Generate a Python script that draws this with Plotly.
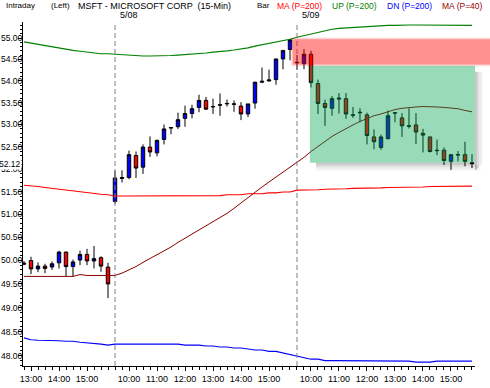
import math
import plotly.graph_objects as go

# ---------------- data ----------------
bar_index = list(range(65))

opens = [49.92, 50.00, 49.82, 49.88, 49.86, 49.95, 50.18, 49.87, 50.01, 50.13, 49.99, 50.06, 49.86,
         51.28, 51.79, 51.81, 52.30, 52.04, 52.49, 52.36, 52.66, 52.92, 52.95, 53.14, 53.25, 53.39,
         53.55, 53.40, 53.44, 53.47, 53.46, 53.42, 53.24, 53.49, 53.97, 54.00, 54.03, 54.51, 54.73,
         54.42, 54.40, 54.62, 53.94, 53.48, 53.37, 53.58, 53.59, 53.22, 53.28, 53.22, 52.72, 52.48,
         52.68, 53.27, 53.15, 52.96, 52.99, 52.80, 52.72, 52.42, 52.42, 52.17, 52.31, 52.32, 52.14]
highs = [49.99, 50.08, 49.96, 49.93, 49.98, 50.21, 50.19, 50.02, 50.21, 50.25, 50.31, 50.09, 49.95,
         51.96, 51.97, 52.41, 52.39, 52.55, 52.73, 52.66, 53.00, 52.94, 53.27, 53.43, 53.45, 53.68,
         53.63, 53.59, 53.71, 53.57, 53.55, 53.51, 53.47, 53.98, 54.31, 54.26, 54.51, 54.71, 54.98,
         54.60, 54.74, 54.70, 54.03, 53.57, 53.65, 53.72, 53.72, 53.40, 53.37, 53.27, 52.89, 52.77,
         53.32, 53.28, 53.26, 53.37, 53.26, 52.90, 52.72, 52.66, 52.48, 52.32, 52.40, 52.61, 52.33]
lows = [49.90, 49.71, 49.75, 49.73, 49.80, 49.83, 49.66, 49.66, 49.90, 49.90, 49.83, 49.76, 49.20,
        51.23, 51.70, 51.77, 51.80, 51.89, 52.27, 52.28, 52.55, 52.78, 52.90, 52.95, 53.14, 53.28,
        53.33, 53.24, 53.20, 53.41, 53.29, 53.10, 53.17, 53.36, 53.95, 53.98, 53.91, 54.27, 54.48,
        54.26, 54.27, 53.85, 53.24, 52.97, 53.20, 53.25, 53.13, 53.15, 53.05, 52.55, 52.44, 52.43,
        52.66, 53.05, 52.72, 52.91, 52.56, 52.37, 52.37, 52.31, 52.09, 51.98, 52.17, 52.06, 52.02]
closes = [49.94, 49.82, 49.88, 49.83, 49.93, 50.18, 49.87, 49.97, 50.13, 49.99, 50.04, 49.88, 49.50,
          51.80, 51.81, 52.32, 52.02, 52.49, 52.38, 52.64, 52.90, 52.93, 53.11, 53.25, 53.36, 53.55,
          53.35, 53.41, 53.45, 53.48, 53.47, 53.24, 53.47, 53.97, 53.99, 54.02, 54.51, 54.71, 54.96,
          54.43, 54.62, 53.96, 53.48, 53.39, 53.59, 53.60, 53.24, 53.21, 53.27, 52.75, 52.61, 52.72,
          53.20, 53.26, 52.97, 52.97, 52.83, 52.76, 52.39, 52.41, 52.19, 52.32, 52.32, 52.17, 52.12]

up_200 = [54.91, 54.88, 54.86, 54.82, 54.79, 54.76, 54.73, 54.71, 54.69, 54.67, 54.64, 54.63, 54.63,
          54.62, 54.61, 54.59, 54.59, 54.58, 54.58, 54.58, 54.59, 54.59, 54.60, 54.61, 54.62, 54.64,
          54.65, 54.67, 54.68, 54.70, 54.72, 54.74, 54.77, 54.81, 54.84, 54.87, 54.90, 54.94, 54.97,
          55.02, 55.06, 55.10, 55.14, 55.18, 55.21, 55.23, 55.24, 55.26, 55.27, 55.27, 55.28, 55.29,
          55.30, 55.30, 55.31, 55.31, 55.31, 55.31, 55.31, 55.31, 55.30, 55.30, 55.30, 55.30, 55.30]
ma_200 = [51.64, 51.63, 51.61, 51.59, 51.57, 51.55, 51.53, 51.51, 51.49, 51.47, 51.45, 51.44, 51.43,
          51.40, 51.40, 51.40, 51.40, 51.40, 51.40, 51.40, 51.40, 51.40, 51.40, 51.40, 51.40, 51.40,
          51.41, 51.41, 51.41, 51.43, 51.43, 51.43, 51.45, 51.45, 51.45, 51.47, 51.47, 51.49, 51.49,
          51.53, 51.53, 51.54, 51.54, 51.55, 51.55, 51.56, 51.56, 51.57, 51.57, 51.58, 51.58, 51.58,
          51.59, 51.59, 51.59, 51.60, 51.60, 51.60, 51.61, 51.61, 51.61, 51.62, 51.62, 51.62, 51.62]
dn_200 = [48.37, 48.33, 48.32, 48.32, 48.31, 48.31, 48.30, 48.30, 48.28, 48.27, 48.25, 48.24, 48.22,
          48.24, 48.24, 48.24, 48.24, 48.24, 48.24, 48.24, 48.24, 48.24, 48.24, 48.22, 48.22, 48.22,
          48.20, 48.20, 48.18, 48.18, 48.16, 48.16, 48.14, 48.12, 48.12, 48.09, 48.09, 48.06, 48.03,
          48.00, 47.97, 47.93, 47.93, 47.90, 47.90, 47.90, 47.90, 47.89, 47.89, 47.89, 47.89, 47.89,
          47.89, 47.89, 47.89, 47.89, 47.87, 47.87, 47.87, 47.89, 47.89, 47.89, 47.89, 47.89, 47.89]
ma_40 = [49.66, 49.66, 49.66, 49.66, 49.66, 49.66, 49.66, 49.66, 49.70, 49.68, 49.68, 49.68, 49.68,
         49.68, 49.73, 49.80, 49.87, 49.96, 50.04, 50.13, 50.21, 50.29, 50.39, 50.48, 50.57, 50.66,
         50.75, 50.84, 50.92, 51.02, 51.13, 51.25, 51.36, 51.49, 51.60, 51.71, 51.82, 51.93, 52.04,
         52.14, 52.26, 52.39, 52.50, 52.61, 52.73, 52.82, 52.91, 52.99, 53.07, 53.14, 53.20, 53.24,
         53.29, 53.34, 53.37, 53.39, 53.40, 53.41, 53.41, 53.40, 53.39, 53.38, 53.36, 53.32, 53.29]

x_tick_pos = [1, 5, 9, 15, 19, 23, 27, 31, 35, 41, 45, 49, 53, 57, 61]
x_tick_text = ["13:00", "14:00", "15:00", "10:00", "11:00", "12:00", "13:00", "14:00", "15:00",
               "10:00", "11:00", "12:00", "13:00", "14:00", "15:00"]
y_tick_vals = [48.0, 48.5, 49.0, 49.5, 50.0, 50.5, 51.0, 51.5, 52.0, 52.5, 53.0, 53.5, 54.0, 54.5, 55.0]
y_minor_vals = [round(47.8 + 0.1 * k, 1) for k in range(76)]

day_start_bars = [13, 39]
day_labels = ["5/08", "5/09"]
last_price = 52.12

# zones (bar-index / price)
red_zone = dict(x0=38.4, y0=54.38, y1=54.97)
green_zone = dict(x0=40.85, x1=64.43, y0=52.14, y1=54.35)

# ---------------- geometry ----------------
W, H = 490, 388
ML, MR, MT, MB = 23, 15, 22, 22
XR = [-0.143, 64.43]
YR = [math.log10(47.79), math.log10(55.38)]
PW = W - ML - MR
PH = H - MT - MB


def xp(i):
    return (i - XR[0]) / (XR[1] - XR[0])


def yp(v):
    return (math.log10(v) - YR[0]) / (YR[1] - YR[0])


def y_from_px(py):
    return 1 - (py - MT) / PH


def x_from_px(px):
    return (px - ML) / PW


fig = go.Figure()

fig.add_trace(go.Scatter(x=bar_index, y=up_200, mode="lines", line=dict(color="#008000", width=1.1)))
fig.add_trace(go.Scatter(x=bar_index, y=ma_200, mode="lines", line=dict(color="#ff0000", width=1.1)))
fig.add_trace(go.Scatter(x=bar_index, y=dn_200, mode="lines", line=dict(color="#0000ff", width=1.1)))
fig.add_trace(go.Scatter(x=bar_index, y=ma_40, mode="lines", line=dict(color="#8b0000", width=1)))

fig.add_trace(go.Candlestick(
    x=bar_index, open=opens, high=highs, low=lows, close=closes,
    increasing=dict(fillcolor="#0000ff", line=dict(color="black", width=1)),
    decreasing=dict(fillcolor="#ff0000", line=dict(color="black", width=1)),
    whiskerwidth=0, hoverinfo="skip",
))

shapes = []
for b in day_start_bars:
    shapes.append(dict(type="line", xref="x", yref="paper", x0=b, x1=b, y0=0, y1=1,
                       line=dict(color="#808080", width=1, dash="5px,3px"), layer="above"))

rx0 = xp(red_zone["x0"])
ry0, ry1 = yp(red_zone["y0"]), yp(red_zone["y1"])
dpx = 1.0 / PH
dpxx = 1.0 / PW
for k, a in [(2, 0.08), (1, 0.12)]:
    shapes.append(dict(type="rect", xref="paper", yref="paper",
                       x0=rx0 - k * dpxx, x1=1.05, y0=ry0 - k * dpx, y1=ry1 + k * dpx,
                       fillcolor="rgba(255,0,0,%s)" % a, line=dict(width=0), layer="above"))
shapes.append(dict(type="rect", xref="paper", yref="paper", x0=rx0, x1=1.05, y0=ry0, y1=ry1,
                   fillcolor="rgba(255,0,0,0.30)", line=dict(width=0), layer="above"))

gx0, gx1 = xp(green_zone["x0"]), xp(green_zone["x1"])
gy0, gy1 = yp(green_zone["y0"]), yp(green_zone["y1"])
for k, a in [(0, 0.22), (2, 0.14), (4, 0.08), (6, 0.04)]:
    shapes.append(dict(type="rect", xref="paper", yref="paper",
                       x0=gx1 + k * dpxx, x1=gx1 + (k + 2) * dpxx,
                       y0=gy0 - (7 - k) * dpx, y1=gy1 - 6 * dpx,
                       fillcolor="rgba(0,0,0,%s)" % a, line=dict(width=0), layer="above"))
    shapes.append(dict(type="rect", xref="paper", yref="paper",
                       x0=gx0 + 6 * dpxx, x1=gx1 + k * dpxx,
                       y0=gy0 - (k + 2) * dpx, y1=gy0 - k * dpx,
                       fillcolor="rgba(0,0,0,%s)" % a, line=dict(width=0), layer="above"))
shapes.append(dict(type="rect", xref="paper", yref="paper", x0=gx0, x1=gx1, y0=gy0, y1=gy1,
                   fillcolor="rgba(0,162,77,0.4)", line=dict(width=0), layer="above"))

FONT = "Liberation Sans, Arial, sans-serif"
annotations = []
header = [
    ("Intraday", 4, "black", 8),
    ("(Left)", 49, "black", 8),
    ("MSFT - MICROSOFT CORP  (15-Min)", 76, "black", 9),
    ("Bar", 255, "black", 8),
    ("MA (P=200)", 275, "#ff0000", 8.5),
    ("UP (P=200)", 330, "#008000", 8.5),
    ("DN (P=200)", 385, "#0000ff", 8.5),
    ("MA (P=40)", 440, "#990000", 8.5),
]
for txt, px, col, fs in header:
    annotations.append(dict(text=txt, xref="paper", yref="paper", x=x_from_px(px), y=y_from_px(6),
                            xanchor="left", yanchor="middle", showarrow=False,
                            font=dict(family=FONT, size=fs, color=col)))
for b, lab in zip(day_start_bars, day_labels):
    annotations.append(dict(text=lab, xref="paper", yref="paper", x=xp(b) + 3 * dpxx, y=y_from_px(15),
                            xanchor="left", yanchor="middle", showarrow=False,
                            font=dict(family=FONT, size=9, color="black")))
annotations.append(dict(text=f"{last_price:.2f}", xref="paper", yref="paper", x=-1 * dpxx,
                        y=yp(last_price), xanchor="right", yanchor="middle", showarrow=False,
                        bgcolor="white", borderpad=0,
                        font=dict(family=FONT, size=8.5, color="black")))

fig.update_layout(
    width=W, height=H,
    margin=dict(l=ML, r=MR, t=MT, b=MB, autoexpand=False),
    paper_bgcolor="white", plot_bgcolor="white",
    showlegend=False,
    shapes=shapes, annotations=annotations,
    font=dict(family=FONT, size=9, color="black"),
    xaxis=dict(
        range=XR, rangeslider=dict(visible=False), showgrid=False, zeroline=False,
        automargin=False,
        showline=True, linecolor="black", linewidth=1,
        tickmode="array", tickvals=x_tick_pos, ticktext=x_tick_text,
        ticks="outside", ticklen=4, tickcolor="black", tickwidth=1,
        tickfont=dict(family=FONT, size=9, color="black"),
        minor=dict(tickmode="array", tickvals=bar_index, ticks="outside", ticklen=3,
                   tickcolor="black", tickwidth=1, showgrid=False),
    ),
    yaxis=dict(
        type="log", range=YR, showgrid=False, zeroline=False,
        automargin=False,
        showline=True, linecolor="black", linewidth=1,
        tickmode="array", tickvals=y_tick_vals, ticktext=[f"{v:.2f}" for v in y_tick_vals],
        ticks="outside", ticklen=4, tickcolor="black", tickwidth=1,
        ticklabelstandoff=-6,
        tickfont=dict(family=FONT, size=8.5, color="black"),
        minor=dict(tickmode="array", tickvals=y_minor_vals, ticks="outside", ticklen=2,
                   tickcolor="black", tickwidth=1, showgrid=False),
    ),
)

fig.write_html("out.html", config={"displayModeBar": False},
               post_script="document.body.style.margin='0';document.body.style.overflow='hidden';")
